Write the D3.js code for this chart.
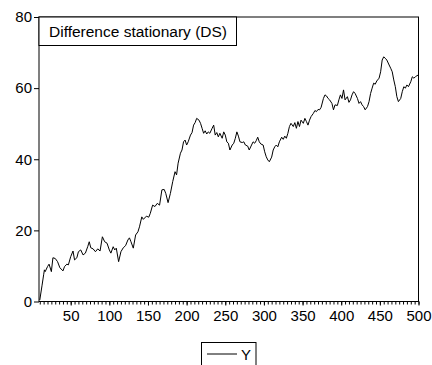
<!DOCTYPE html>
<html>
<head>
<meta charset="UTF-8">
<title>Difference stationary (DS)</title>
<script src="https://cdn.jsdelivr.net/npm/d3@7"></script>
<style>
  body { margin: 0; background: #fff; }
  text { font-family: "Liberation Sans", Arial, sans-serif; }
</style>
</head>
<body>
<div id="chart"></div>
<script>

var obs = [10,13,15,16,17,20,22,25,27,30,33,36,40,42,45,47,50,53,55,58,60,63,66,69,72,74,76,79,82,85,88,91,94,97,100,102,105,107,109,112,115,118,121,124,126,128,131,134,137,139,
  142,144,148,151,153,156,159,162,165,168,171,173,176,179,182,185,187,189,192,194,196,198,200,202,205,207,209,211,213,216,218,220,222,224,226,228,230,233,235,237,239,241,243,246,248,250,252,254,256,259,261,263,265,267,269,
  272,274,276,279,281,284,286,288,290,292,294,296,299,301,303,305,307,310,312,314,316,318,320,323,325,327,329,331,333,335,338,340,342,344,346,348,351,353,355,357,359,361,364,366,368,370,372,374,377,379,381,383,385,
  388,390,392,395,397,399,401,403,405,408,410,412,414,416,418,421,423,425,427,429,431,434,436,438,440,442,444,446,449,451,453,455,457,459,462,464,466,468,470,472,474,477,479,481,483,485,487,490,492,494,496,498,500]
var yvals = [0.4,4.6,7.5,8.9,8.4,9.8,10.5,8.4,12.3,12.1,11.2,9.5,8.6,9.8,10.5,10.3,12.6,14.2,11.7,12.3,14,14.5,13.1,13.6,15.4,16.8,15.1,14.8,14,14.8,14.2,18.2,16.8,16.4,14.5,13.6,15.4,14.5,15,11.2,14,15.1,15.7,17.3,17.9,16.8,15,18.7,19.6,21,
  23.8,23.1,24,23.7,24.8,27.1,26.7,27.6,27.1,31.4,31.5,30.4,27.8,30.4,33.7,36.5,35.6,38.9,41.7,42.6,44.9,45.4,44,44.9,46.8,47.5,49.6,50.3,51.5,51,50.1,48.7,47.3,48,47.1,47.7,47.3,48.7,49.6,46.8,47.5,46.3,47.3,45.9,47.7,46.8,44.9,44.5,42.6,44,44.5,45.9,47.7,46.5,44.9,
  44.7,44.9,44,43.7,42.6,44,44.9,44.5,45.2,46.2,44.9,44.3,44,42.1,40.7,39.8,39.3,40.6,42.6,43.5,44,43.5,44.9,46.2,45.6,46.5,45.9,47.3,49.2,50.1,49.2,50.3,48.7,50.6,49.2,51,50.1,51.5,50.6,49.6,51,52,52.9,53.7,53.4,54,53.9,54.6,57.1,58.1,57.8,57.1,56.7,
  55.7,53.9,55.3,55.1,56.7,58.1,57.1,59.5,56.7,57.6,56,56.7,58.1,59,58.5,57.1,55.7,56.2,55.3,54.8,53.9,54.8,56.2,58.5,60,61.4,61.1,62,62.8,64.6,67.9,68.8,68.4,67.9,66.5,65.6,64.6,62.3,60.4,57.6,56.2,57.1,59,60.4,60,60.9,60.4,61.8,63.2,62.8,63.2,63.5,63.7]

var yTicks = [0, 20, 40, 60, 80]
var xTicks = [50, 100, 150, 200, 250, 300, 350, 400, 450, 500]
var titleText = "Difference stationary (DS)"
var seriesName = "Y"

var W = 432, H = 365
var padL = 39, padR = 418.5, padT = 17, padB = 301.5

var svg = d3.select("#chart").append("svg")
  .attr("width", W).attr("height", H)

var x = d3.scaleLinear().domain([9, 500]).range([padL, padR])
var y = d3.scaleLinear().domain([0, 80]).range([padB, padT])

// frame
svg.append("rect")
  .attr("x", padL).attr("y", padT)
  .attr("width", padR - padL).attr("height", padB - padT)
  .attr("fill", "none").attr("stroke", "#000").attr("stroke-width", 1)

// y axis
var yAxis = svg.append("g")
  .attr("transform", "translate(" + padL + ",0)")
  .call(d3.axisLeft(y).tickValues(yTicks).tickSize(5).tickPadding(2))
yAxis.select(".domain").remove()
yAxis.selectAll("text").style("font-size", "15px").attr("fill", "#000")

// x axis: minor ticks every 5 obs
var minor = d3.range(10, 501, 5)
var xMinor = svg.append("g")
  .attr("transform", "translate(0," + padB + ")")
  .call(d3.axisBottom(x).tickValues(minor).tickSize(3).tickFormat(""))
xMinor.select(".domain").remove()

var xAxis = svg.append("g")
  .attr("transform", "translate(0," + padB + ")")
  .call(d3.axisBottom(x).tickValues(xTicks).tickSize(4).tickPadding(5))
xAxis.select(".domain").remove()
xAxis.selectAll("text").style("font-size", "15px").attr("fill", "#000")

// series line
var pts = obs.map(function(o, i) { return [o, yvals[i]] })
svg.append("path")
  .datum(pts)
  .attr("fill", "none")
  .attr("stroke", "#000")
  .attr("stroke-width", 1)
  .attr("stroke-linejoin", "round")
  .attr("d", d3.line().x(function(d) { return x(d[0]) }).y(function(d) { return y(d[1]) }))

// title box
svg.append("rect")
  .attr("x", padL).attr("y", padT)
  .attr("width", 197.5).attr("height", 28.5)
  .attr("fill", "#fff").attr("stroke", "#000")
svg.append("text")
  .attr("x", 49).attr("y", 37)
  .style("font-size", "15.5px")
  .text(titleText)

// legend
svg.append("rect")
  .attr("x", 201.5).attr("y", 342.5)
  .attr("width", 54.5).attr("height", 30)
  .attr("fill", "#fff").attr("stroke", "#000")
svg.append("line")
  .attr("x1", 207).attr("x2", 237).attr("y1", 354).attr("y2", 354)
  .attr("stroke", "#000")
svg.append("text")
  .attr("x", 241).attr("y", 360)
  .style("font-size", "15px")
  .text(seriesName)

</script>
</body>
</html>
